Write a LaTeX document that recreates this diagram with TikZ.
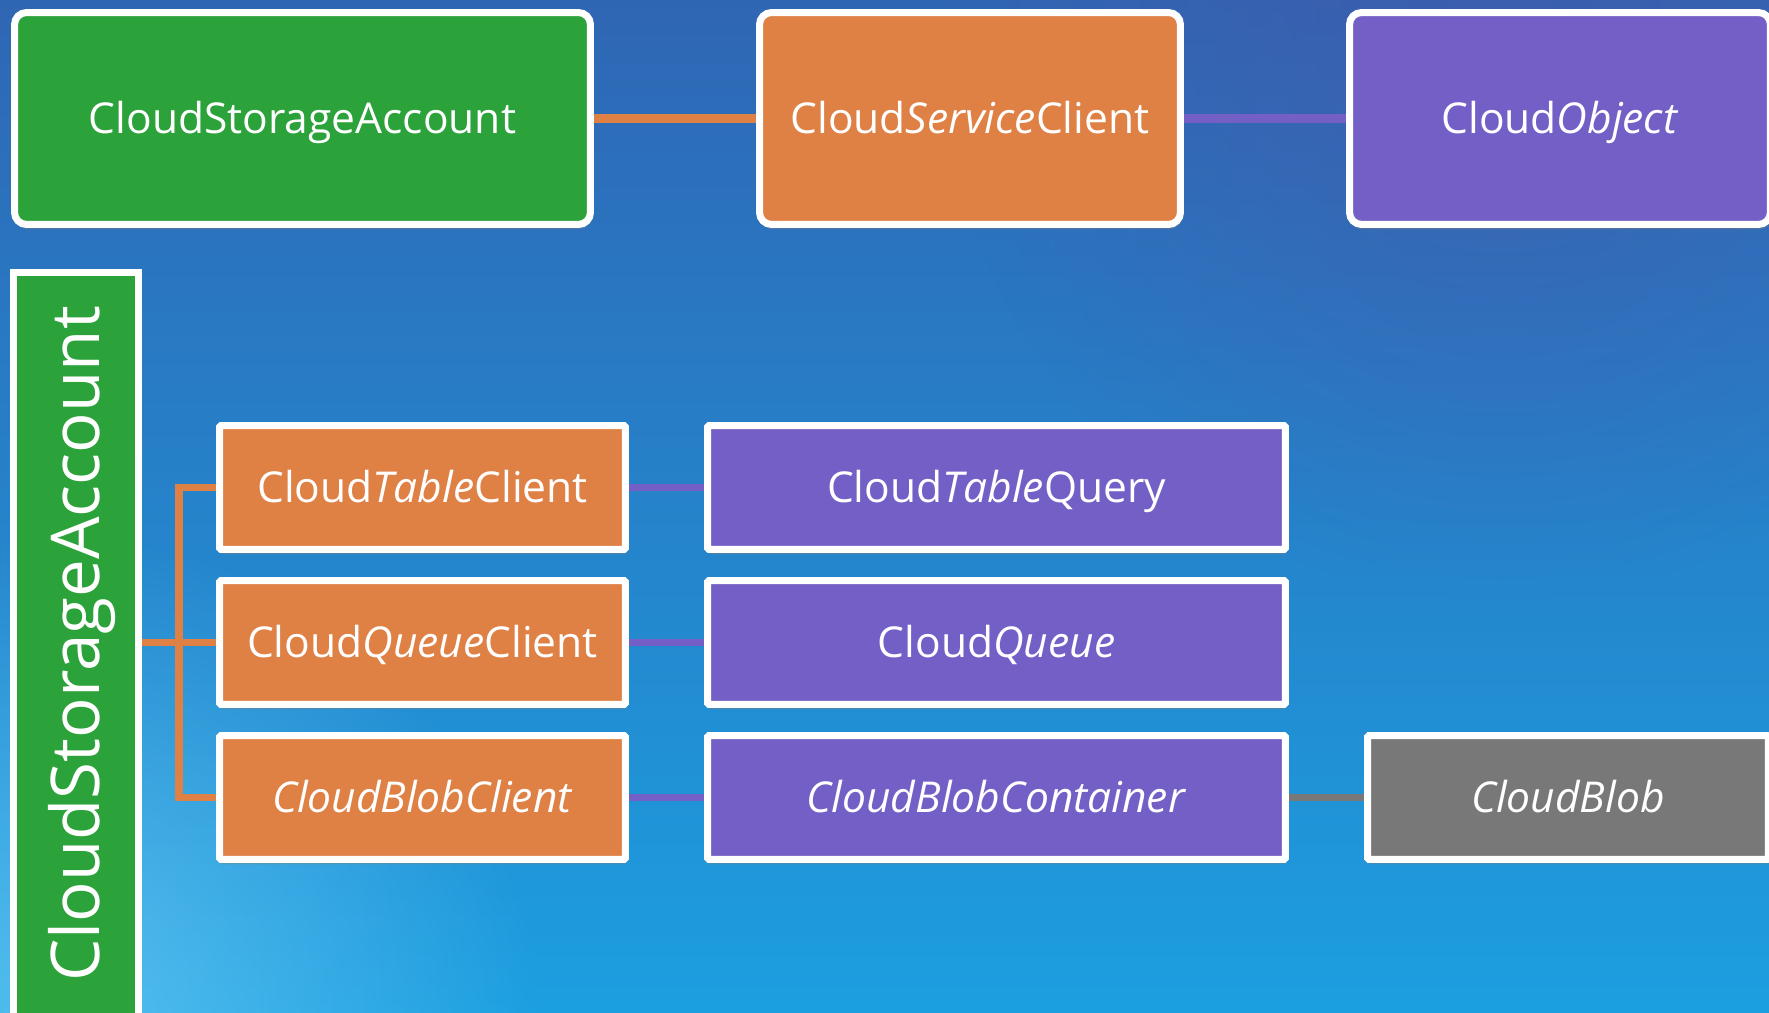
\documentclass[tikz,border=0pt]{standalone}
\usepackage{fontspec}
\setmainfont{Open Sans}
\usepackage{xcolor}
\usetikzlibrary{positioning, shadows, fadings}

\definecolor{acctgreen}{HTML}{2CA23A}
\definecolor{clientorange}{HTML}{DF8045}
\definecolor{objpurple}{HTML}{745FC7}
\definecolor{blobgray}{HTML}{787878}
\definecolor{bgtop}{HTML}{2F66B4}
\definecolor{bgmid}{HTML}{0778C6}
\definecolor{bgbot}{HTML}{1C9FE0}
\definecolor{bglight}{HTML}{7AD4FA}
\definecolor{bgviolet}{HTML}{4A55A8}

\tikzfading[name=glowfade, inner color=transparent!0, outer color=transparent!100]

\begin{document}
\begin{tikzpicture}[
    x=0.02cm, y=-0.02cm,
    line width=0.14cm,
    font=\fontsize{24.2}{29}\selectfont,
    box/.style={draw=white, text=white, inner sep=0pt,
        text height=17.3pt, text depth=0pt,
        drop shadow={opacity=0.4, shadow xshift=0.02cm, shadow yshift=-0.1cm}},
    bigbox/.style={box, rounded corners=0.24cm, minimum width=8.42cm, minimum height=4.24cm},
    rowbox/.style={box, rounded corners=0.03cm, minimum height=2.48cm},
    link/.style={line width=0.17cm}
]

% =========================================================
% BACKGROUND
% =========================================================
\useasboundingbox (0,0) rectangle (1769,1013);
\shade[top color=bgtop, middle color=bgmid, bottom color=bgbot] (0,0) rectangle (1769,1013);
\begin{scope}
\clip (0,0) rectangle (1769,1013);
\fill[bgviolet, path fading=glowfade, opacity=0.5] (1500,40) circle (560);
\fill[bglight, path fading=glowfade, opacity=0.6] (60,1013) circle (480);
\end{scope}

% =========================================================
% TOP: account, service client, object
% =========================================================
\node[bigbox, fill=acctgreen, minimum width=11.52cm] (account) at (302.5,118.5) {CloudStorageAccount};
\node[bigbox, fill=clientorange] (serviceclient) at (970,118.5) {Cloud\textit{Service}Client};
\node[bigbox, fill=objpurple] (cloudobject) at (1560,118.5) {Cloud\textit{Object}};

\draw[link, clientorange] (account) -- (serviceclient);
\draw[link, objpurple] (serviceclient) -- (cloudobject);

% =========================================================
% BOTTOM: account bar, clients and their objects
% =========================================================
\node[box, fill=acctgreen, rounded corners=0pt, minimum width=2.5cm, minimum height=15.5cm] (accountbar) at (76,660) {};
\node[text=white, rotate=90, inner sep=0pt, font=\fontsize{38.3}{46}\selectfont,
    text height=27.3pt, text depth=0pt] (accountlabel) at (76,644) {CloudStorageAccount};

% clients
\node[rowbox, fill=clientorange, minimum width=8.12cm] (tableclient) at (422.5,487.5) {Cloud\textit{Table}Client};
\node[rowbox, fill=clientorange, minimum width=8.12cm] (queueclient) at (422.5,642.5) {Cloud\textit{Queue}Client};
\node[rowbox, fill=clientorange, minimum width=8.12cm] (blobclient) at (422.5,797.5) {\textit{CloudBlobClient}};

% objects
\node[rowbox, fill=objpurple, minimum width=11.56cm] (tablequery) at (996.5,487.5) {Cloud\textit{Table}Query};
\node[rowbox, fill=objpurple, minimum width=11.56cm] (queue) at (996.5,642.5) {Cloud\textit{Queue}};
\node[rowbox, fill=objpurple, minimum width=11.56cm] (container) at (996.5,797.5) {\textit{CloudBlobContainer}};
\node[rowbox, fill=blobgray, minimum width=8.02cm] (blob) at (1568,797.5) {\textit{CloudBlob}};

% links
\coordinate (fork) at (179,642.5);
\draw[link, line width=0.15cm, clientorange] (accountbar.east |- queueclient) -- (queueclient.west);
\draw[link, line width=0.15cm, clientorange] (tableclient.west) -- (fork |- tableclient)
    -- (fork |- blobclient) -- (blobclient.west);
\draw[link, line width=0.15cm, objpurple] (tableclient) -- (tablequery);
\draw[link, line width=0.15cm, objpurple] (queueclient) -- (queue);
\draw[link, line width=0.15cm, objpurple] (blobclient) -- (container);
\draw[link, line width=0.15cm, blobgray] (container) -- (blob);

\end{tikzpicture}
\end{document}
